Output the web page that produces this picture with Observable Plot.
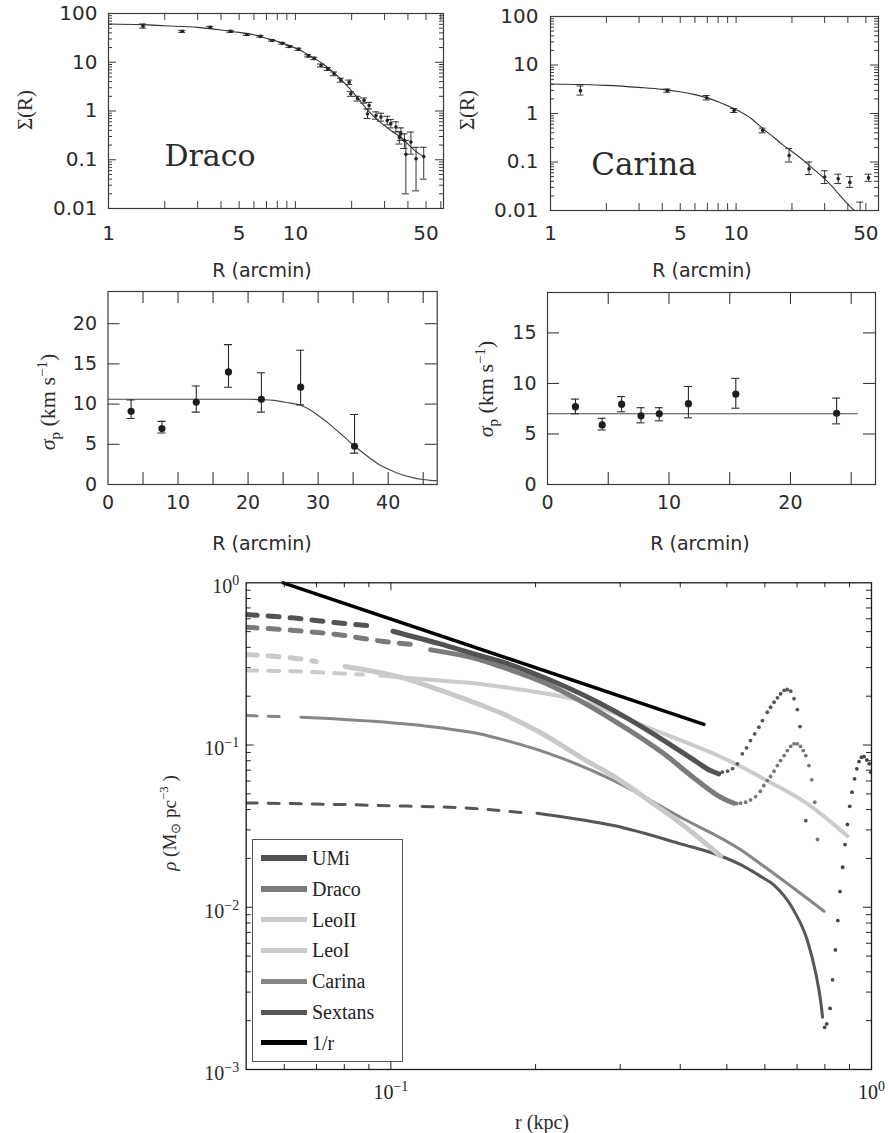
<!DOCTYPE html>
<html><head><meta charset="utf-8">
<script src="https://cdn.jsdelivr.net/npm/d3@7"></script>
<script src="https://cdn.jsdelivr.net/npm/@observablehq/plot@0.6"></script>
<style>
html,body{margin:0;padding:0;background:#fff;}
#page{position:relative;width:892px;height:1133px;overflow:hidden;background:#fff;}
.lbl{position:absolute;white-space:nowrap;color:#2a2a2a;line-height:1;}
.lbl sub,.lbl sup{font-size:0.68em;line-height:0;}
#legend{position:absolute;left:252px;top:839px;width:151px;height:223px;box-sizing:border-box;border:1.5px solid #555;background:#fff;}
.lrow{position:absolute;left:0;height:0;}
.lsw{position:absolute;left:8px;width:46px;}
.ltx{position:absolute;left:59px;font-family:"Liberation Serif",serif;font-size:20px;line-height:1;color:#222;white-space:nowrap;transform:translateY(-50%);}
</style></head><body><div id="page"></div>
<script>
// ---------------- Panel: Draco surface density Σ(R) ----------------
const dracoSigR   = [1.53,2.48,3.5,4.5,5.5,6.5,7.5,8.5,9.3,10.4,11.7,12.6,13.7,14.9,16.1,17.5,19.4,19.8,21.5,23.3,24.8,24.3,27,28.7,31,32.4,34.5,36.7,36,38.3,39,41.5,44.2,48.6];
const dracoSig    = [55,43,52,43,37,34,28,24.5,21,18.5,13.5,12,8.6,7.3,5.8,4.3,3.9,2.25,1.8,1.65,1.3,0.87,0.81,0.75,0.64,0.55,0.47,0.34,0.29,0.25,0.13,0.23,0.105,0.117];
const dracoSigLo  = [50,41,49.5,41,35.5,32.5,27,23.5,20,17.5,12.8,11.3,8,6.8,5.3,3.9,3.5,2.0,1.6,1.45,1.1,0.7,0.68,0.62,0.52,0.45,0.37,0.25,0.21,0.17,0.02,0.13,0.023,0.04];
const dracoSigHi  = [61,45,54.5,45,38.5,35.5,29,25.5,22,19.5,14.3,12.7,9.2,7.8,6.3,4.7,4.3,2.5,2.0,1.85,1.5,1.1,0.96,0.9,0.78,0.67,0.6,0.45,0.38,0.34,0.25,0.37,0.18,0.18];
const dracoSigFitR = [1,1.5,2,3,4,5,6,7,8,10,12,14,16,18,20,22,24.3,27,30,33,36.7,41,45,48];
const dracoSigFit  = [61,59,56,52,46,41,36.5,31,27,19.5,13.5,9.3,6.2,4.0,2.6,1.7,1.05,0.7,0.5,0.38,0.29,0.19,0.14,0.12];

// ---------------- Panel: Carina surface density Σ(R) ----------------
const carinaSigR  = [1.45,4.26,6.94,9.75,13.9,19.3,24.7,30,35.5,41,51.7,46.6];
const carinaSig   = [2.96,2.96,2.1,1.15,0.445,0.136,0.072,0.049,0.045,0.038,0.047,0.007];
const carinaSigLo = [2.4,2.75,1.9,1.05,0.4,0.1,0.055,0.036,0.036,0.03,0.04,0.004];
const carinaSigHi = [3.7,3.2,2.35,1.27,0.5,0.19,0.1,0.066,0.056,0.05,0.056,0.0149];
const carinaSigFitR = [1,1.5,2,3,4,5,6,7,8,9,10,12,14,16,18,20,22,25,28,30,33,36,40,43.3,48];
const carinaSigFit  = [4.06,3.95,3.8,3.45,3.15,2.8,2.45,2.1,1.75,1.45,1.2,0.8,0.48,0.32,0.22,0.165,0.125,0.082,0.057,0.045,0.031,0.021,0.0135,0.01,0.0063];

// ---------------- Panel: Draco velocity dispersion ----------------
const dracoVelR  = [3.3,7.7,12.6,17.2,21.9,27.5,35.2];
const dracoVel   = [9.1,6.95,10.25,14.0,10.6,12.1,4.75];
const dracoVelLo = [8.2,6.4,9.0,12.1,9.0,9.9,3.9];
const dracoVelHi = [10.5,7.85,12.25,17.4,13.9,16.7,8.7];
const dracoVelFitR = [0,5,10,15,20,22,23.7,25.5,27.5,29,30.3,31.5,32.7,34,35.1,36.3,37.5,38.7,39.9,41.1,42.3,43.5,44.7,46,46.9];
const dracoVelFit  = [10.6,10.6,10.6,10.6,10.6,10.55,10.45,10.2,9.85,9.2,8.4,7.6,6.7,5.7,4.85,4.0,3.2,2.5,1.95,1.5,1.12,0.85,0.65,0.52,0.48];

// ---------------- Panel: Carina velocity dispersion ----------------
const carinaVelR  = [2.3,4.5,6.1,7.7,9.2,11.6,15.5,23.8];
const carinaVel   = [7.7,5.9,7.95,6.8,7.0,8.0,8.95,7.05];
const carinaVelLo = [7.0,5.4,7.2,6.1,6.3,6.6,7.55,6.0];
const carinaVelHi = [8.45,6.55,8.7,7.6,7.6,9.7,10.5,8.55];
const carinaVelFitR = [0,25.5];
const carinaVelFit  = [7.0,7.0];

// ---------------- Panel: density profiles ρ(r) ----------------
const galaxyNames  = ["UMi","Draco","LeoII","LeoI","Carina","Sextans"];
const galaxyColors = ["#525252","#7b7b7b","#c9c9c9","#cbcbcb","#868686","#565656"];
const galaxyWidths = [5,5,5,4,3,3];

const umiDashR = [0.05,0.0622,0.0772,0.0906];
const umiDashRho = [0.6375,0.608,0.567,0.543];
const umiSolidR = [0.101,0.1266,0.1535,0.169,0.2113,0.291,0.370,0.434,0.462,0.481];
const umiSolidRho = [0.503,0.42,0.355,0.328,0.256,0.163,0.1066,0.0783,0.0696,0.0664];
const umiDotR = [0.489,0.502,0.514,0.526,0.5385,0.5495,0.560,0.5715,0.583,0.593,0.607,0.6165,0.627,0.637,0.647,0.658,0.668,0.679,0.690,0.701,0.710,0.730];
const umiDotRho = [0.068,0.0691,0.0716,0.0766,0.0883,0.0961,0.1066,0.1173,0.1288,0.1416,0.1593,0.171,0.1836,0.1954,0.207,0.217,0.220,0.2147,0.193,0.1655,0.130,0.0342];

const dracoDashR = [0.05,0.0622,0.0772,0.0958,0.1106];
const dracoDashRho = [0.532,0.51,0.48,0.4365,0.4165];
const dracoSolidR = [0.121,0.1535,0.169,0.2113,0.291,0.370,0.434,0.4855,0.517];
const dracoSolidRho = [0.386,0.335,0.305,0.238,0.1416,0.0883,0.0604,0.0477,0.0438];
const dracoDotR = [0.524,0.534,0.547,0.560,0.574,0.587,0.597,0.607,0.6165,0.627,0.637,0.647,0.658,0.668,0.679,0.690,0.701,0.712,0.721,0.730,0.741,0.751,0.762,0.772];
const dracoDotRho = [0.0436,0.0438,0.0444,0.0459,0.0481,0.0519,0.0563,0.0604,0.064,0.069,0.0747,0.0802,0.0861,0.0925,0.098,0.1017,0.1017,0.098,0.0925,0.0861,0.0747,0.061,0.0444,0.0262];

const leoIIDashR = [0.05,0.0653,0.0699];
const leoIIDashRho = [0.361,0.338,0.327];
const leoIISolidR = [0.0803,0.1045,0.1266,0.1535,0.169,0.205,0.25,0.291,0.35,0.4006,0.4855];
const leoIISolidRho = [0.305,0.262,0.218,0.177,0.158,0.119,0.083,0.064,0.044,0.033,0.0207];

const leoIDashR = [0.05,0.0622,0.0772,0.0874];
const leoIDashRho = [0.288,0.285,0.277,0.272];
const leoISolidR = [0.095,0.1045,0.1266,0.1535,0.169,0.205,0.248,0.341,0.470,0.5345,0.588,0.736,0.891];
const leoISolidRho = [0.268,0.262,0.25,0.238,0.229,0.21,0.188,0.129,0.0883,0.0737,0.0633,0.0434,0.0275];

const carinaDashR = [0.05,0.0615];
const carinaDashRho = [0.152,0.149];
const carinaSolidR = [0.065,0.092,0.1266,0.1535,0.169,0.2113,0.291,0.4006,0.5345,0.588,0.797];
const carinaSolidRho = [0.1484,0.140,0.1277,0.117,0.109,0.0895,0.0604,0.0359,0.0226,0.0185,0.00945];

const sextansDashR = [0.05,0.095,0.1535,0.1905];
const sextansDashRho = [0.044,0.0424,0.0404,0.0381];
const sextansSolidR = [0.2014,0.225,0.291,0.4006,0.4855,0.534,0.588,0.627,0.69,0.736,0.766,0.783,0.791];
const sextansSolidRho = [0.038,0.0363,0.0319,0.0246,0.0207,0.0183,0.0155,0.0137,0.0095,0.0062,0.0039,0.0027,0.0021];
const sextansDotR = [0.799,0.807,0.820,0.830,0.841,0.851,0.860,0.871,0.881,0.891,0.901,0.911,0.922,0.932,0.942,0.953,0.965,0.978,0.989,0.9966];
const sextansDotRho = [0.00182,0.00191,0.00238,0.00357,0.00546,0.00828,0.0125,0.01765,0.02435,0.0324,0.0419,0.0512,0.0619,0.0713,0.0791,0.0841,0.0849,0.0810,0.0766,0.068];

const invRR = [0.0597,0.448];
const invRRho = [1.0,0.134];

const legendNames = ["UMi","Draco","LeoII","LeoI","Carina","Sextans","1/r"];
const legendColors = ["#525252","#7b7b7b","#c9c9c9","#cbcbcb","#868686","#565656","#000000"];
const legendWidths = [6,6,5,5,5,5,5];

// tick values / labels
const sigTickLabelsX = [1,5,10,50];
const sigTickLabelsY = [100,10,1,0.1,0.01];
const sigTicksX = [2,3,4,5,6,7,8,9,10,20,30,40,50,60];
const sigTicksYMajor = [0.1,1,10];
const sigTicksYMinor = [0.01,0.1,1,10].flatMap(d => [2,3,4,5,6,7,8,9].map(k => +(k*d).toPrecision(3)));
const dracoVelLabelsX = [0,10,20,30,40];
const dracoVelLabelsY = [0,5,10,15,20];
const carinaVelLabelsX = [0,10,20];
const carinaVelLabelsY = [0,5,10,15];
const rhoLabelsX = [0.1,1];
const rhoLabelsY = [1,0.1,0.01,0.001];
const rhoTicksXMajor = [0.1];
const rhoTicksXMinor = [0.06,0.07,0.08,0.09,0.2,0.3,0.4,0.5,0.6,0.7,0.8,0.9];
const rhoTicksYMajor = [0.01,0.1];
const rhoTicksYMinor = [0.001,0.01,0.1].flatMap(d => [2,3,4,5,6,7,8,9].map(k => +(k*d).toPrecision(3)));

// ---------------- helpers ----------------
const page = document.getElementById("page");
const pts = (xs, ys) => xs.map((x, i) => ({x, y: ys[i]}));
const errs = (xs, ys, lo, hi) => xs.map((x, i) => ({x, y: ys[i], lo: lo[i], hi: hi[i]}));

function inner(vals, axis, len, fw, fh, stroke, sw = 1) {
  if (axis === "x") return [
    Plot.tickX(vals, {x: d => d, insetTop: fh - len, stroke, strokeWidth: sw}),
    Plot.tickX(vals, {x: d => d, insetBottom: fh - len, stroke, strokeWidth: sw})
  ];
  return [
    Plot.tickY(vals, {y: d => d, insetRight: fw - len, stroke, strokeWidth: sw}),
    Plot.tickY(vals, {y: d => d, insetLeft: fw - len, stroke, strokeWidth: sw})
  ];
}
function errorMarks(data, cap, stroke, sw) {
  return [
    Plot.ruleX(data, {x: "x", y1: "lo", y2: "hi", stroke, strokeWidth: sw, clip: true}),
    Plot.ruleY(data, {y: "lo", x1: "x", x2: "x", insetLeft: -cap, insetRight: -cap, stroke, strokeWidth: sw, clip: true}),
    Plot.ruleY(data, {y: "hi", x1: "x", x2: "x", insetLeft: -cap, insetRight: -cap, stroke, strokeWidth: sw, clip: true})
  ];
}
function panel(c) {
  const svg = Plot.plot({
    width: c.width, height: c.height,
    marginLeft: c.mL, marginRight: c.mR, marginTop: c.mT, marginBottom: c.mB,
    x: c.x, y: c.y,
    style: {fontFamily: c.font, fontSize: c.fontSize + "px", color: "#2a2a2a", background: "transparent", overflow: "visible"},
    marks: c.marks
  });
  svg.style.position = "absolute";
  svg.style.left = c.left + "px";
  svg.style.top = c.top + "px";
  page.appendChild(svg);
  return svg;
}
function label(html, cx, cy, font, size, rot) {
  const d = document.createElement("div");
  d.className = "lbl";
  d.innerHTML = html;
  d.style.left = cx + "px";
  d.style.top = cy + "px";
  d.style.fontFamily = font;
  d.style.fontSize = size + "px";
  d.style.transform = "translate(-50%,-50%)" + (rot ? " rotate(-90deg)" : "");
  page.appendChild(d);
}
const fmtNum = d => String(d);

// ---------------- Σ(R) panels ----------------
function sigmaPanel(o) {
  const fw = o.width - o.mL - o.mR, fh = o.height - o.mT - o.mB;
  const xt = sigTicksX.filter(d => d < o.xmax);
  return panel({
    left: o.left, top: o.top, width: o.width, height: o.height,
    mL: o.mL, mR: o.mR, mT: o.mT, mB: o.mB,
    x: {type: "log", domain: [1, o.xmax], axis: null},
    y: {type: "log", domain: [0.01, 100]},
    font: "DejaVu Sans", fontSize: 20,
    marks: [
      ...inner(xt, "x", 7, fw, fh, "#3a3a3a"),
      ...inner(sigTicksYMajor, "y", 8, fw, fh, "#3a3a3a"),
      ...inner(sigTicksYMinor, "y", 4, fw, fh, "#3a3a3a"),
      Plot.line(pts(o.fitR, o.fit), {x: "x", y: "y", stroke: "#333", strokeWidth: 1.1, curve: "monotone-x", clip: true}),
      ...errorMarks(errs(o.R, o.S, o.lo, o.hi), 3.5, "#333", 1),
      Plot.dot(pts(o.R, o.S), {x: "x", y: "y", r: 1.8, fill: "#222", clip: true}),
      Plot.frame({stroke: "#3a3a3a", strokeWidth: 1.2}),
      Plot.text(sigTickLabelsX, {x: d => d, text: d => String(d), frameAnchor: "bottom", lineAnchor: "top", dy: o.xPad, fontSize: 20, fill: "#2a2a2a"}),
      Plot.axisY(sigTickLabelsY, {anchor: "left", tickSize: 0, tickPadding: o.yPad, tickFormat: fmtNum, label: null, fontSize: 20})
    ]
  });
}
sigmaPanel({left: 0, top: 0, width: 450, height: 280, mL: 108, mR: 7, mT: 13, mB: 72, xmax: 62,
  R: dracoSigR, S: dracoSig, lo: dracoSigLo, hi: dracoSigHi, fitR: dracoSigFitR, fit: dracoSigFit, xPad: 17.5, yPad: 11});
sigmaPanel({left: 440, top: 0, width: 452, height: 280, mL: 110, mR: 14, mT: 16, mB: 70, xmax: 58.5,
  R: carinaSigR, S: carinaSig, lo: carinaSigLo, hi: carinaSigHi, fitR: carinaSigFitR, fit: carinaSigFit, xPad: 15.7, yPad: 12});

// ---------------- σp panels ----------------
function velPanel(o) {
  const fw = o.width - o.mL - o.mR, fh = o.height - o.mT - o.mB;
  const xt = d3.range(5, o.xmax, 5), yt = d3.range(5, o.ymax, 5);
  return panel({
    left: o.left, top: o.top, width: o.width, height: o.height,
    mL: o.mL, mR: o.mR, mT: o.mT, mB: o.mB,
    x: {domain: [0, o.xmax]}, y: {domain: [0, o.ymax]},
    font: "DejaVu Sans", fontSize: 19,
    marks: [
      ...inner(xt, "x", 12, fw, fh, "#3a3a3a", 1.1),
      ...inner(yt, "y", 12, fw, fh, "#3a3a3a", 1.1),
      Plot.line(pts(o.fitR, o.fit), {x: "x", y: "y", stroke: "#484848", strokeWidth: 1.2, curve: "monotone-x", clip: true}),
      ...errorMarks(errs(o.R, o.V, o.lo, o.hi), 4, "#2a2a2a", 1.1),
      Plot.dot(pts(o.R, o.V), {x: "x", y: "y", r: 3.6, fill: "#1e1e1e"}),
      Plot.frame({stroke: "#3a3a3a", strokeWidth: 1.2}),
      Plot.axisX(o.lx, {anchor: "bottom", tickSize: 0, tickPadding: 10.5, tickFormat: fmtNum, label: null, fontSize: 19}),
      Plot.axisY(o.ly, {anchor: "left", tickSize: 0, tickPadding: 11, tickFormat: fmtNum, label: null, fontSize: 19})
    ]
  });
}
velPanel({left: 0, top: 280, width: 450, height: 280, mL: 107.5, mR: 13.3, mT: 11, mB: 76, xmax: 47, ymax: 24,
  R: dracoVelR, V: dracoVel, lo: dracoVelLo, hi: dracoVelHi, fitR: dracoVelFitR, fit: dracoVelFit, lx: dracoVelLabelsX, ly: dracoVelLabelsY});
velPanel({left: 440, top: 280, width: 452, height: 280, mL: 107, mR: 17, mT: 12, mB: 76, xmax: 27, ymax: 19,
  R: carinaVelR, V: carinaVel, lo: carinaVelLo, hi: carinaVelHi, fitR: carinaVelFitR, fit: carinaVelFit, lx: carinaVelLabelsX, ly: carinaVelLabelsY});

// ---------------- ρ(r) panel ----------------
const profiles = [
  {dashR: sextansDashR, dashRho: sextansDashRho, solidR: sextansSolidR, solidRho: sextansSolidRho, dotR: sextansDotR, dotRho: sextansDotRho, i: 5, dotColor: "#474747"},
  {dashR: carinaDashR, dashRho: carinaDashRho, solidR: carinaSolidR, solidRho: carinaSolidRho, i: 4},
  {dashR: leoIIDashR, dashRho: leoIIDashRho, solidR: leoIISolidR, solidRho: leoIISolidRho, i: 2},
  {dashR: leoIDashR, dashRho: leoIDashRho, solidR: leoISolidR, solidRho: leoISolidRho, i: 3},
  {dashR: dracoDashR, dashRho: dracoDashRho, solidR: dracoSolidR, solidRho: dracoSolidRho, dotR: dracoDotR, dotRho: dracoDotRho, i: 1, dotColor: "#777"},
  {dashR: umiDashR, dashRho: umiDashRho, solidR: umiSolidR, solidRho: umiSolidRho, dotR: umiDotR, dotRho: umiDotRho, i: 0, dotColor: "#555"}
];
const rhoMarks = [];
{
  const fw = 742 - 95.7 - 21, fh = 563 - 12.3 - 64;
  rhoMarks.push(
    ...inner(rhoTicksXMajor, "x", 8, fw, fh, "#222"),
    ...inner(rhoTicksXMinor, "x", 5, fw, fh, "#222"),
    ...inner(rhoTicksYMajor, "y", 8, fw, fh, "#222"),
    ...inner(rhoTicksYMinor, "y", 5, fw, fh, "#222")
  );
}
for (const p of profiles) {
  const color = galaxyColors[p.i], w = galaxyWidths[p.i];
  rhoMarks.push(
    Plot.line(pts(p.dashR, p.dashRho), {x: "x", y: "y", stroke: color, strokeWidth: w, strokeDasharray: "11,11", curve: "monotone-x", clip: true}),
    Plot.line(pts(p.solidR, p.solidRho), {x: "x", y: "y", stroke: color, strokeWidth: w, curve: "monotone-x", clip: true})
  );
  if (p.dotR) rhoMarks.push(Plot.dot(pts(p.dotR, p.dotRho), {x: "x", y: "y", r: 1.9, fill: p.dotColor, clip: true}));
}
rhoMarks.push(
  Plot.line(pts(invRR, invRRho), {x: "x", y: "y", stroke: "#000", strokeWidth: 3.5}),
  Plot.frame({stroke: "#1a1a1a", strokeWidth: 1.3}),
  Plot.text(rhoLabelsX, {x: d => d, text: d => d === 1 ? "10^0" : "10^\u22121", frameAnchor: "bottom", lineAnchor: "top", dy: 15, fontSize: 20, fill: "#222"}),
  Plot.axisY(rhoLabelsY, {anchor: "left", tickSize: 0, tickPadding: 7, dy: 4, tickFormat: d => "10^" + (d === 1 ? "0" : "\u2212" + Math.round(-Math.log10(d))), label: null, fontSize: 20})
);
const rhoSvg = panel({
  left: 150, top: 570, width: 742, height: 563,
  mL: 95.7, mR: 21, mT: 12.3, mB: 64,
  x: {type: "log", domain: [0.05, 1], axis: null},
  y: {type: "log", domain: [0.001, 1]},
  font: "Liberation Serif", fontSize: 20,
  marks: rhoMarks
});
rhoSvg.querySelectorAll("text").forEach(t => {
  const m = /^10\^(.+)$/.exec(t.textContent);
  if (m) {
    t.textContent = "10";
    const ts = document.createElementNS("http://www.w3.org/2000/svg", "tspan");
    ts.setAttribute("dy", "-8");
    ts.setAttribute("font-size", "14");
    ts.textContent = m[1];
    t.appendChild(ts);
  }
});

// ---------------- legend ----------------
const lg = document.createElement("div");
lg.id = "legend";
legendNames.forEach((name, i) => {
  const row = document.createElement("div");
  row.className = "lrow";
  row.style.top = (18 + i * 30.8) + "px";
  const sw = document.createElement("div");
  sw.className = "lsw";
  sw.style.height = legendWidths[i] + "px";
  sw.style.top = (-legendWidths[i] / 2) + "px";
  sw.style.background = legendColors[i];
  const tx = document.createElement("div");
  tx.className = "ltx";
  tx.textContent = name;
  row.appendChild(sw); row.appendChild(tx);
  lg.appendChild(row);
});
page.appendChild(lg);

// ---------------- titles & labels ----------------
label("Draco", 210, 156, "DejaVu Serif", 30, false);
label("Carina", 644, 164, "DejaVu Serif", 31, false);
label("\u03A3(R)", 25, 110, "Liberation Serif", 21, true);
label("\u03A3(R)", 467, 110, "Liberation Serif", 21, true);
label("R (arcmin)", 262, 270, "DejaVu Sans", 19, false);
label("R (arcmin)", 702, 270, "DejaVu Sans", 19, false);
label("<i>\u03C3</i><sub>p</sub> (km s<sup>\u22121</sup>)", 48, 402, "Liberation Serif", 22, true);
label("<i>\u03C3</i><sub>p</sub> (km s<sup>\u22121</sup>)", 486, 389, "Liberation Serif", 22, true);
label("R (arcmin)", 262, 543, "DejaVu Sans", 19, false);
label("R (arcmin)", 700, 543, "DejaVu Sans", 19, false);
label("<i>\u03C1</i> (M<sub>\u2299</sub> pc<sup>\u22123</sup> )", 169, 823, "Liberation Serif", 19, true);
label("r (kpc)", 542, 1122, "Liberation Serif", 20, false);
</script></body></html>
